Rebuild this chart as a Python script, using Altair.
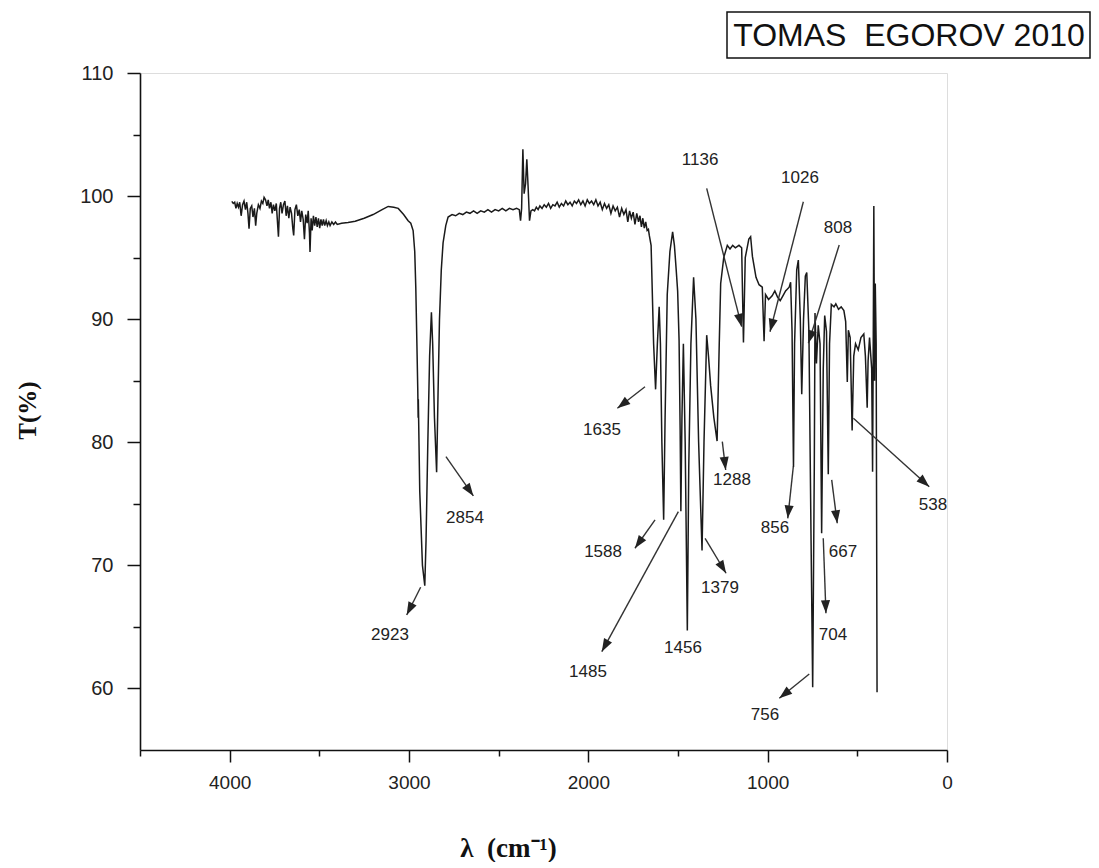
import math
import altair as alt
import pandas as pd

# ---------------- data ----------------
wavenumber = [
    3988, 3980, 3972, 3965, 3958, 3951, 3944, 3936, 3928, 3920, 3912, 3905, 3898, 3892,
    3885, 3877, 3870, 3862, 3855, 3849, 3840, 3831, 3823, 3815, 3808, 3800, 3792, 3785,
    3778, 3770, 3763, 3756, 3748, 3740, 3733, 3728, 3722, 3715, 3708, 3700, 3692, 3685,
    3678, 3670, 3663, 3655, 3648, 3643, 3636, 3628, 3620, 3612, 3605, 3598, 3590, 3583,
    3576, 3568, 3562, 3555, 3552, 3546, 3540, 3533, 3526, 3519, 3512, 3505, 3498, 3491,
    3484, 3477, 3470, 3462, 3455, 3447, 3440, 3430, 3420, 3410, 3400, 3376, 3340, 3300,
    3250, 3200, 3150, 3116, 3085, 3060, 3030, 3005, 2990, 2977, 2968, 2962, 2956, 2951,
    2949, 2948, 2940, 2925, 2912, 2905, 2895, 2885, 2875, 2868, 2858, 2846, 2838, 2830,
    2820, 2810, 2795, 2782, 2760, 2740, 2720, 2700, 2680, 2660, 2640, 2620, 2600, 2580,
    2560, 2540, 2520, 2500, 2480, 2460, 2440, 2420, 2400, 2385, 2378, 2372, 2365, 2358,
    2350, 2343, 2336, 2328, 2320, 2310,
    2300, 2290, 2280, 2270, 2258, 2246, 2234, 2222, 2210, 2198, 2186, 2174, 2162, 2150,
    2138, 2126, 2114, 2102, 2090, 2078, 2066, 2054, 2042, 2030, 2018, 2006, 1994, 1982,
    1970, 1958, 1946, 1934, 1922, 1910, 1898, 1886, 1874, 1862, 1850, 1838, 1826, 1814,
    1802, 1790, 1780, 1770, 1760, 1750, 1740, 1730, 1720, 1712, 1704, 1696, 1688, 1680,
    1672, 1665,
    1660, 1650, 1643, 1636, 1625, 1615, 1605, 1598, 1590, 1580, 1572, 1560, 1545, 1530,
    1520, 1510, 1502, 1494, 1488, 1484, 1478, 1470, 1460, 1448, 1440, 1428, 1413, 1400,
    1385, 1366, 1355, 1340, 1330, 1318, 1300, 1282, 1270, 1262, 1245, 1225, 1210, 1195,
    1180, 1160, 1145, 1135, 1125, 1105, 1095, 1085, 1065, 1048, 1030, 1020, 1012, 995,
    975, 960, 945, 930, 915, 900, 880, 872, 864, 856, 850, 838, 829, 818, 810, 800,
    790, 782, 770, 758, 749, 740, 736, 728, 718, 708, 699, 690, 682, 672, 662, 655,
    645, 630, 620, 605, 590, 575, 565, 556, 550, 540, 529, 520, 510, 495, 480, 464,
    455, 445, 440, 432, 420, 415, 411, 408, 404, 400, 395, 390,
]
transmittance = [
    99.57, 99.4, 99.5, 99.0, 99.4, 99.1, 99.5, 98.4, 99.3, 99.6, 98.9, 99.5, 98.6, 97.35,
    99.0, 99.2, 98.3, 99.0, 97.6, 98.6, 99.3, 99.0, 99.6, 99.4, 99.9, 99.7, 99.2, 99.7,
    99.0, 99.5, 98.6, 99.3, 98.8, 99.4, 97.8, 96.7, 99.0, 99.5, 98.6, 99.3, 99.6, 98.4,
    99.2, 98.2, 99.1, 98.6, 97.4, 96.8, 98.9, 99.3, 98.4, 98.9, 97.9, 98.8, 98.1, 96.5,
    98.5, 97.8, 98.8, 97.0, 95.45, 98.2, 97.2, 98.4, 97.6, 98.3, 97.5, 98.2, 97.4, 98.1,
    97.6, 98.1, 97.6, 98.0, 97.6, 97.9, 97.6, 97.9, 97.7, 97.9, 97.7, 97.8, 97.85, 97.95,
    98.2, 98.5, 98.9, 99.16, 99.1, 99.0, 98.5, 98.0, 97.8, 97.2, 95.5, 92.5, 88.0, 84.2,
    82.0, 83.5, 76.0, 70.0, 68.35, 72.0, 80.0, 87.0, 90.57, 88.0, 82.0, 77.56, 84.0, 90.0,
    94.0, 96.2, 97.6, 98.3, 98.5, 98.4, 98.6, 98.5, 98.7, 98.6, 98.8, 98.6, 98.8, 98.7,
    98.9, 98.7, 98.9, 98.8, 99.0, 98.8, 99.0, 98.9, 99.0, 98.9, 98.0, 99.0, 103.8, 100.2,
    101.0, 103.0, 100.8, 98.0, 98.8, 98.9,
    98.8, 99.1, 98.9, 99.2, 99.0, 99.3, 99.1, 99.4, 99.0, 99.3, 99.2, 99.5, 99.1, 99.4,
    99.2, 99.6, 99.3, 99.5, 99.2, 99.6, 99.4, 99.7, 99.3, 99.6, 99.2, 99.7, 99.4, 99.6,
    99.3, 99.7, 99.2, 99.5, 98.9, 99.4, 99.0, 99.3, 98.6, 99.2, 98.8, 99.1, 98.3, 99.0,
    98.5, 98.9, 97.9, 98.8, 98.2, 98.7, 97.7, 98.6, 97.9, 98.4, 97.5, 98.2, 97.4, 97.9,
    97.2, 97.3,
    96.8, 96.0, 92.0, 88.0, 84.3, 88.0, 91.0, 88.0, 80.0, 73.7, 82.0, 92.0, 95.5, 97.1,
    96.0, 94.0, 92.3, 88.3, 81.0, 74.4, 82.0, 88.0, 80.0, 64.7, 78.0, 88.0, 93.4, 90.0,
    80.0, 71.2, 80.0, 88.7, 87.0, 84.6, 82.0, 80.1, 88.0, 92.9, 95.0, 96.0, 95.7, 96.0,
    95.8, 96.0, 95.8, 88.1, 95.0, 96.5, 96.7, 95.1, 93.4, 92.8, 92.6, 88.2, 92.0, 91.6,
    91.9, 92.3, 91.8, 91.5, 91.9, 92.3, 92.6, 93.0, 89.0, 78.0, 88.0, 94.0, 94.8, 90.0, 83.9, 90.0,
    93.5, 93.8, 89.0, 72.0, 60.1, 78.0, 90.5, 86.4, 89.5, 88.0, 72.6, 86.0, 90.3, 89.0, 77.4, 88.0,
    91.2, 91.0, 91.25, 90.8, 91.0, 90.7, 89.8, 84.9, 89.1, 88.5, 80.95, 87.0, 88.0, 87.5, 88.5, 88.8,
    87.0, 82.8, 86.6, 88.5, 86.0, 77.6, 88.8, 99.2, 85.0, 92.9, 88.0, 59.7,
]

peak_labels = ["2923", "2854", "1635", "1588", "1485", "1456", "1379", "1288",
               "856", "756", "704", "667", "538", "1136", "1026", "808"]
label_wn = [3106, 2688, 1924, 1918, 2002, 1472, 1266, 1199,
            959, 1015, 636, 580, 78, 1377, 820, 608]
label_t = [64.34, 73.85, 81.0, 71.09, 61.34, 63.29, 68.16, 76.94,
           73.04, 57.84, 64.34, 71.09, 74.9, 102.93, 101.47, 97.41]

arrow_names = ["2923", "2854", "1635", "1588", "1485", "1379", "1288",
               "856", "756", "704", "667", "538", "1136", "1026", "808"]
arrow_wn1 = [2935, 2794, 1684, 1628, 1498, 1349, 1253, 857, 768, 690, 643, 522, 1340, 801, 601]
arrow_t1 = [68.22, 78.83, 84.51, 73.69, 74.36, 72.2, 80.05, 78.02, 61.17, 72.2, 76.94, 81.95, 100.63, 99.54, 96.03]
arrow_wn2 = [3013, 2641, 1838, 1740, 1925, 1232, 1234, 888, 935, 675, 612, 99, 1145, 987, 773]
arrow_t2 = [65.97, 75.64, 82.76, 71.39, 62.99, 69.36, 77.75, 73.82, 59.2, 66.11, 73.42, 76.39, 89.39, 88.98, 88.04]

title_text = ["TOMAS\u00a0 EGOROV 2010"]
x_ticks = [0, 500, 1000, 1500, 2000, 2500, 3000, 3500, 4000, 4500]
y_ticks = [60, 65, 70, 75, 80, 85, 90, 95, 100, 105, 110]

# ---------------- layout ----------------
W, H = 807, 677
X_DOMAIN = [0, 4500]
Y_DOMAIN = [55, 110]

spec_df = pd.DataFrame({"i": range(len(wavenumber)), "wn": wavenumber, "t": transmittance})
lab_df = pd.DataFrame({"label": peak_labels, "wn": label_wn, "t": label_t})

angles = []
for a, b, c, d in zip(arrow_wn1, arrow_t1, arrow_wn2, arrow_t2):
    dx = -(c - a) * W / (X_DOMAIN[1] - X_DOMAIN[0])
    dy = -(d - b) * H / (Y_DOMAIN[1] - Y_DOMAIN[0])
    angles.append(math.degrees(math.atan2(dx, -dy)) % 360)
arr_df = pd.DataFrame({"name": arrow_names, "wn1": arrow_wn1, "t1": arrow_t1,
                       "wn2": arrow_wn2, "t2": arrow_t2, "ang": angles})
title_df = pd.DataFrame({"title": title_text})

xs = alt.Scale(domain=X_DOMAIN, reverse=True, nice=False, zero=False)
ys = alt.Scale(domain=Y_DOMAIN, nice=False, zero=False)

x_axis = alt.Axis(
    values=x_ticks, format="d",
    labelExpr="datum.value % 1000 === 0 ? datum.label : ''",
    tickSize={"condition": {"test": "datum.value % 1000 === 0", "value": 12}, "value": 6},
    tickWidth=1.5, tickColor="#111", domainColor="#111", domainWidth=1.6,
    labelFont="Liberation Sans", labelFontSize=19, labelColor="#222",
    labelPadding=11, labelFlush=False, labelOverlap=False, grid=False,
    title="λ\u00a0 (cm⁻¹)", titleFont="Liberation Serif", titleFontSize=27,
    titleFontWeight="bold", titleColor="#111",
    titleX=368, titleY=98, titleAlign="center", titleBaseline="middle",
)
y_axis = alt.Axis(
    values=y_ticks,
    labelExpr="datum.value % 10 === 0 ? datum.label : ''",
    tickSize={"condition": {"test": "datum.value % 10 === 0", "value": 13}, "value": 7},
    tickWidth=1.5, tickColor="#111", domainColor="#111", domainWidth=1.6,
    labelFont="Liberation Sans", labelFontSize=20, labelColor="#222",
    labelPadding=14, labelFlush=False, labelOverlap=False, grid=False,
    title="T(%)", titleFont="Liberation Serif", titleFontSize=25,
    titleFontWeight="bold", titleColor="#111",
    titleX=-113, titleY=337, titleAlign="center", titleBaseline="middle", titleAngle=270,
)

spectrum = alt.Chart(spec_df).mark_line(color="#1a1a1a", strokeWidth=1.5).encode(
    x=alt.X("wn:Q", scale=xs, axis=x_axis),
    y=alt.Y("t:Q", scale=ys, axis=y_axis),
    order="i:Q",
)

arrows = alt.Chart(arr_df).mark_rule(color="#333", strokeWidth=1.4).encode(
    x=alt.X("wn1:Q", scale=xs), y=alt.Y("t1:Q", scale=ys),
    x2="wn2:Q", y2="t2:Q",
)

heads = alt.Chart(arr_df).mark_point(
    shape="M0,0L-0.7,2L0.7,2Z", filled=True, color="#222", size=169, opacity=1, strokeWidth=0
).encode(
    x=alt.X("wn2:Q", scale=xs), y=alt.Y("t2:Q", scale=ys),
    angle=alt.Angle("ang:Q", scale=None),
)

labels = alt.Chart(lab_df).mark_text(
    font="Liberation Sans", fontSize=17, color="#222", align="center", baseline="middle"
).encode(
    x=alt.X("wn:Q", scale=xs), y=alt.Y("t:Q", scale=ys), text="label:N",
)

title_box = alt.Chart(title_df).mark_rect(fill="white", stroke="#111", strokeWidth=1.5).encode(
    x=alt.value(587), x2=alt.value(950), y=alt.value(-61), y2=alt.value(-15),
)
title_txt = alt.Chart(title_df).mark_text(
    font="Liberation Sans", fontSize=32, color="#111", align="center", baseline="middle"
).encode(
    x=alt.value(769), y=alt.value(-37), text="title:N",
)

chart = alt.layer(spectrum, arrows, heads, labels, title_box, title_txt).properties(
    width=W, height=H,
    autosize=alt.AutoSizeParams(type="none"),
    padding={"left": 132, "top": 65, "right": 144, "bottom": 112},
).configure_view(stroke=None).configure(background="white")

chart.save("out.html", embed_options={"renderer": "svg", "actions": False})
